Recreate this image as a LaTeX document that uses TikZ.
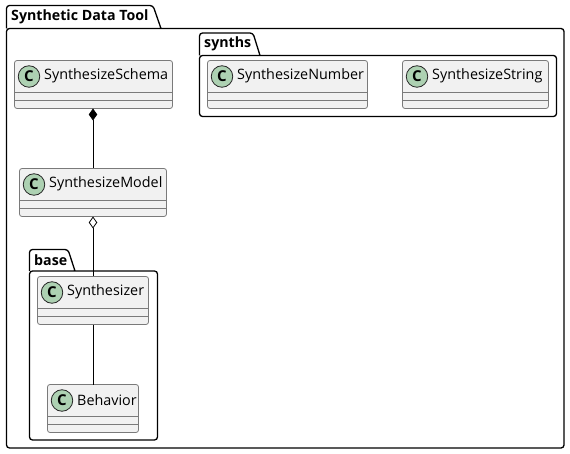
\documentclass[tikz,border=0pt]{standalone}
\usepackage{fontspec}
\setmainfont{Open Sans}
\usetikzlibrary{arrows.meta}
\definecolor{classfill}{HTML}{F1F1F1}
\definecolor{classline}{HTML}{7A7A7A}
\definecolor{spotfill}{HTML}{ADD1B2}
\newcommand{\classbox}[6]{% name, left, right, top, label, label x
  \node[classbox, minimum width=#3pt-#2pt, anchor=north west] (#1) at (#2,#4) {};
  \draw[classdiv] (#2,#4+32) -- (#3,#4+32);
  \draw[classdiv] (#2,#4+40) -- (#3,#4+40);
  \node[spot] (#1spot) at (#2+14.5,#4+16) {\fontsize{15}{15}\selectfont\bfseries C};
  \node[classlabel] (#1label) at (#6,#4+15.5) {#5};
}
\newcommand{\pkgpath}[7]{% left, right, tabtop, bodytop, bottom, tab top right, tab foot
  \draw[pkgline] (#1,#4) [rounded corners=3pt] -- (#1,#3) -- (#6,#3) [sharp corners] -- (#7,#4)
    [rounded corners=3pt] -- (#2,#4) -- (#2,#5) -- (#1,#5) -- (#1,#4) [sharp corners] -- (#7,#4);
}
\tikzset{
  x=1pt,y=-1pt,
  classbox/.style={draw=classline,fill=classfill,line width=0.8pt,rounded corners=2.5pt,minimum height=48pt,inner sep=0pt,outer sep=0pt},
  classdiv/.style={draw=classline,line width=0.8pt},
  spot/.style={circle,draw=black!85,fill=spotfill,line width=0.8pt,minimum size=21.5pt,inner sep=0pt},
  classlabel/.style={anchor=west,inner sep=0pt,font=\fontsize{14.35}{18}\selectfont,text=black},
  pkglabel/.style={anchor=west,inner sep=0pt,font=\fontsize{14.2}{18}\selectfont\bfseries,text=black},
  pkgline/.style={draw=black,line width=1.3pt},
  conn/.style={draw=black,line width=0.8pt},
}
\begin{document}
\begin{tikzpicture}
\useasboundingbox (0,0) rectangle (570,454);
% packages
\pkgpath{6.5}{564}{5.5}{28.5}{448}{153}{161}
\node[pkglabel] (outerlabel) at (11,17) {Synthetic Data Tool};
\pkgpath{199.5}{556.5}{33}{55.5}{116.5}{253}{260}
\node[pkglabel] (synthslabel) at (204,44) {synths};
\pkgpath{29.5}{157.5}{249.5}{271}{440}{68}{75}
\node[pkglabel] (baselabel) at (34,260) {base};
% classes
\classbox{schema}{14.5}{172.5}{60.5}{SynthesizeSchema}{44}
\classbox{model}{19.5}{166.5}{168.5}{SynthesizeModel}{49}
\classbox{synth}{37.5}{148.5}{276.5}{Synthesizer}{67}
\classbox{behav}{47.5}{138.5}{384.5}{Behavior}{77}
\classbox{number}{207.5}{367.5}{60.5}{SynthesizeNumber}{237}
\classbox{string}{402.5}{548.5}{60.5}{SynthesizeString}{432}
% connectors
\coordinate (schemaout) at (93,108.5);
\coordinate (modelin) at (93,168.5);
\coordinate (modelout) at (93,216.5);
\coordinate (synthin) at (93,276.5);
\coordinate (synthout) at (93,324.5);
\coordinate (behavin) at (93,384.5);
\draw[conn,{Diamond[length=12pt,width=8.5pt,fill=black]}-] (schemaout) -- (modelin);
\draw[conn,{Diamond[length=12pt,width=8.5pt,open,fill=white]}-] (modelout) -- (synthin);
\draw[conn] (synthout) -- (behavin);
\end{tikzpicture}
\end{document}
